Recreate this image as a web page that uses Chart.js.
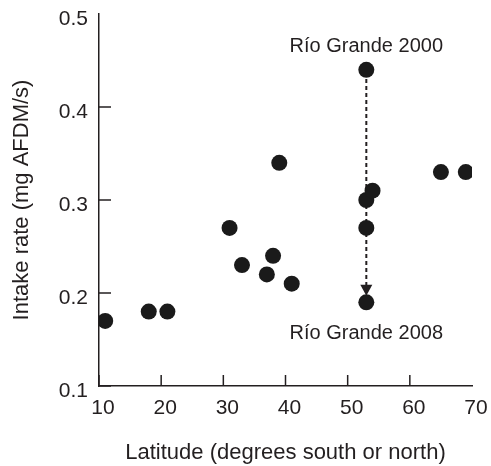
<!DOCTYPE html>
<html>
<head>
<meta charset="utf-8">
<script src="https://cdn.jsdelivr.net/npm/chart.js@4.4.0/dist/chart.umd.min.js"></script>
<style>
  html, body { margin: 0; padding: 0; background: #fff; }
  #wrap { width: 491px; height: 466px; }
</style>
</head>
<body>
<div id="wrap"><canvas id="myChart" width="491" height="466"></canvas></div>
<script>
const ctx = document.getElementById("myChart").getContext("2d");

// latitude (degrees south or north) and intake rate (mg AFDM/s)
const latitude = [11, 18, 21, 31, 33, 37, 38, 39, 41, 53, 53, 53, 53, 54, 65, 69];
const intakeRate = [0.17, 0.18, 0.18, 0.27, 0.23, 0.22, 0.24, 0.34, 0.21, 0.44, 0.30, 0.27, 0.19, 0.31, 0.33, 0.33];

const xTicks = [10, 20, 30, 40, 50, 60, 70];
const yTicks = [0.1, 0.2, 0.3, 0.4, 0.5];

// Río Grande labels and the change arrow (data units)
const noteLabels = ['Río Grande 2000', 'Río Grande 2008'];
const noteX = [53, 53];
const noteY = [0.465, 0.157];
const arrowFrom = [53, 0.43];
const arrowTo = [53, 0.197];

const ink = '#231f20';

const extras = {
  id: 'extras',
  beforeDatasetsDraw(chart) {
    const c = chart.ctx;
    const xs = chart.scales.x, ys = chart.scales.y;
    c.save();
    // inward ticks (none at the far ends, like the original)
    c.strokeStyle = ink;
    c.lineWidth = 1.5;
    yTicks.slice(0, -1).forEach(v => {
      const py = ys.getPixelForValue(v);
      c.beginPath();
      c.moveTo(xs.left, py);
      c.lineTo(xs.left + 12, py);
      c.stroke();
    });
    xTicks.slice(0, -1).forEach(v => {
      const px = xs.getPixelForValue(v);
      c.beginPath();
      c.moveTo(px, ys.bottom);
      c.lineTo(px, ys.bottom - 11);
      c.stroke();
    });
    // dashed arrow
    const ax = xs.getPixelForValue(arrowFrom[0]);
    const ay1 = ys.getPixelForValue(arrowFrom[1]);
    const ay2 = ys.getPixelForValue(arrowTo[1]);
    c.lineWidth = 2;
    c.setLineDash([4, 3]);
    c.beginPath();
    c.moveTo(ax, ay1);
    c.lineTo(ax, ay2 - 10);
    c.stroke();
    c.setLineDash([]);
    c.fillStyle = ink;
    c.beginPath();
    c.moveTo(ax - 6, ay2 - 11);
    c.lineTo(ax + 6, ay2 - 11);
    c.lineTo(ax, ay2);
    c.closePath();
    c.fill();
    c.restore();
  },
  afterDatasetsDraw(chart) {
    const c = chart.ctx;
    const xs = chart.scales.x, ys = chart.scales.y;
    c.save();
    c.fillStyle = ink;
    c.font = '20px "Liberation Sans", Arial, sans-serif';
    c.textAlign = 'center';
    c.textBaseline = 'middle';
    noteLabels.forEach((t, i) => {
      c.fillText(t, xs.getPixelForValue(noteX[i]), ys.getPixelForValue(noteY[i]));
    });
    c.restore();
  }
};

const tickFont = { family: '"Liberation Sans", Arial, sans-serif', size: 21 };
const titleFont = { family: '"Liberation Sans", Arial, sans-serif', size: 22 };

new Chart(ctx, {
  type: 'scatter',
  data: {
    datasets: [{
      data: latitude.map((x, i) => ({ x: x, y: intakeRate[i] })),
      backgroundColor: '#1a1a1a',
      borderColor: '#1a1a1a',
      pointRadius: 8,
      pointBorderWidth: 0
    }]
  },
  options: {
    responsive: false,
    animation: false,
    events: [],
    layout: { padding: { top: 14, right: 19, left: 0, bottom: 0 } },
    plugins: { legend: { display: false }, tooltip: { enabled: false } },
    scales: {
      x: {
        type: 'linear',
        min: 10, max: 70,
        afterFit: s => { s.height = 80; s.paddingLeft = 0; s.paddingRight = 0; },
        afterBuildTicks: s => { s.ticks = xTicks.map(v => ({ value: v })); },
        grid: { display: false, drawTicks: false },
        border: { display: true, color: ink, width: 1.5 },
        ticks: { color: ink, font: tickFont, padding: 10, maxRotation: 0, labelOffset: 4 },
        title: { display: true, text: 'Latitude (degrees south or north)', color: ink, font: titleFont, padding: { top: 0, bottom: 0 } }
      },
      y: {
        type: 'linear',
        min: 0.1, max: 0.5,
        afterFit: s => { s.width = 99; s.paddingTop = 0; s.paddingBottom = 0; },
        afterBuildTicks: s => { s.ticks = yTicks.map(v => ({ value: v })); },
        grid: { display: false, drawTicks: false },
        border: { display: true, color: ink, width: 1.5 },
        ticks: { color: ink, font: tickFont, padding: 11, labelOffset: 5, callback: v => v.toFixed(1) },
        title: { display: true, text: 'Intake rate (mg AFDM/s)', color: ink, font: titleFont, padding: { top: 9, bottom: 0 } }
      }
    }
  },
  plugins: [extras]
});
</script>
</body>
</html>
